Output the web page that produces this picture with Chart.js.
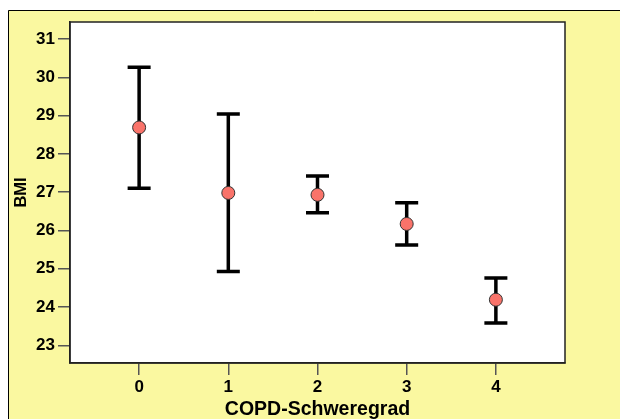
<!DOCTYPE html>
<html>
<head>
<meta charset="utf-8">
<script src="https://cdn.jsdelivr.net/npm/chart.js@4/dist/chart.umd.min.js"></script>
<style>
  html, body { margin: 0; padding: 0; background: #fff; }
  #wrap { width: 620px; height: 419px; }
</style>
</head>
<body>
<div id="wrap"><canvas id="myChart" width="620" height="419"></canvas></div>
<script>
// BMI nach COPD-Schweregrad: Mittelwert mit Fehlerbalken
const categories = ["0", "1", "2", "3", "4"];
const meanBMI = [28.69, 26.98, 26.93, 26.17, 24.19];
const upperBMI = [30.26, 29.04, 27.42, 26.72, 24.76];
const lowerBMI = [27.10, 24.93, 26.46, 25.62, 23.58];
const yTicks = [23, 24, 25, 26, 27, 28, 29, 30, 31];

const FONT = "'Liberation Sans', Arial, sans-serif";

// yellow frame + white plot area + border
const backgroundPlugin = {
  id: "bg",
  beforeDraw(chart) {
    const ctx = chart.ctx;
    const a = chart.chartArea;
    ctx.save();
    ctx.fillStyle = "#fff";
    ctx.fillRect(0, 0, chart.width, chart.height);
    ctx.fillStyle = "#FAF8A0";
    ctx.fillRect(8, 10, chart.width - 8, chart.height - 10);
    ctx.strokeStyle = "#000";
    ctx.lineWidth = 1;
    ctx.beginPath();
    ctx.moveTo(8.5, chart.height);
    ctx.lineTo(8.5, 10.5);
    ctx.lineTo(chart.width, 10.5);
    ctx.stroke();
    ctx.fillStyle = "#fff";
    ctx.fillRect(a.left, a.top, a.right - a.left, a.bottom - a.top);
    ctx.restore();
  },
  afterDraw(chart) {
    const ctx = chart.ctx;
    const a = chart.chartArea;
    ctx.save();
    ctx.strokeStyle = "#222";
    ctx.lineWidth = 1.5;
    ctx.strokeRect(a.left, a.top, a.right - a.left, a.bottom - a.top);
    ctx.restore();
  }
};

// error bars drawn from the data through the scales
const errorBarPlugin = {
  id: "errorBars",
  beforeDatasetsDraw(chart) {
    const ctx = chart.ctx;
    const xs = chart.scales.x;
    const ys = chart.scales.y;
    ctx.save();
    ctx.strokeStyle = "#000";
    ctx.lineWidth = 3.5;
    ctx.lineCap = "butt";
    for (let i = 0; i < categories.length; i++) {
      const x = xs.getPixelForValue(i);
      const yt = ys.getPixelForValue(upperBMI[i]);
      const yb = ys.getPixelForValue(lowerBMI[i]);
      ctx.beginPath();
      ctx.moveTo(x, yt);
      ctx.lineTo(x, yb);
      ctx.moveTo(x - 11.5, yt);
      ctx.lineTo(x + 11.5, yt);
      ctx.moveTo(x - 11.5, yb);
      ctx.lineTo(x + 11.5, yb);
      ctx.stroke();
    }
    ctx.restore();
  }
};

var ctx = document.getElementById("myChart").getContext("2d");

var chart = new Chart(ctx, {
  type: "scatter",
  data: {
    datasets: [
      {
        label: "BMI",
        data: meanBMI.map((v, i) => ({ x: i, y: v })),
        backgroundColor: "#F9736A",
        borderColor: "#333",
        borderWidth: 1,
        pointRadius: 6.5,
        pointHoverRadius: 6.5
      }
    ]
  },
  options: {
    responsive: false,
    animation: false,
    events: [],
    layout: { padding: { top: 22, right: 55, left: 0, bottom: 0 } },
    plugins: {
      legend: { display: false },
      tooltip: { enabled: false }
    },
    scales: {
      x: {
        type: "linear",
        min: -0.775,
        max: 4.775,
        afterBuildTicks: (s) => { s.ticks = categories.map((c, i) => ({ value: i })); },
        afterFit: (s) => { s.height = 56; },
        grid: { drawOnChartArea: false, drawTicks: true, tickLength: 12, color: "#555", lineWidth: 1.5 },
        border: { display: true, color: "#222", width: 1.5 },
        ticks: {
          color: "#000",
          padding: 2,
          maxRotation: 0,
          font: { family: FONT, size: 17, weight: "bold" },
          callback: (v) => categories[v]
        },
        title: {
          display: true,
          text: "COPD-Schweregrad",
          color: "#000",
          padding: { top: 0, bottom: 0 },
          font: { family: FONT, size: 19.5, weight: "bold", lineHeight: 1.0 }
        }
      },
      y: {
        min: 22.537,
        max: 31.445,
        afterBuildTicks: (s) => { s.ticks = yTicks.map((v) => ({ value: v })); },
        afterFit: (s) => { s.width = 70; },
        grid: { drawOnChartArea: false, drawTicks: true, tickLength: 12, color: "#555", lineWidth: 1.5 },
        border: { display: true, color: "#222", width: 1.5 },
        ticks: {
          color: "#000",
          padding: 3,
          font: { family: FONT, size: 17, weight: "bold" }
        },
        title: {
          display: true,
          text: "BMI",
          color: "#000",
          padding: { top: 12, bottom: 0 },
          font: { family: FONT, size: 16.5, weight: "bold" }
        }
      }
    }
  },
  plugins: [backgroundPlugin, errorBarPlugin]
});
</script>
</body>
</html>
